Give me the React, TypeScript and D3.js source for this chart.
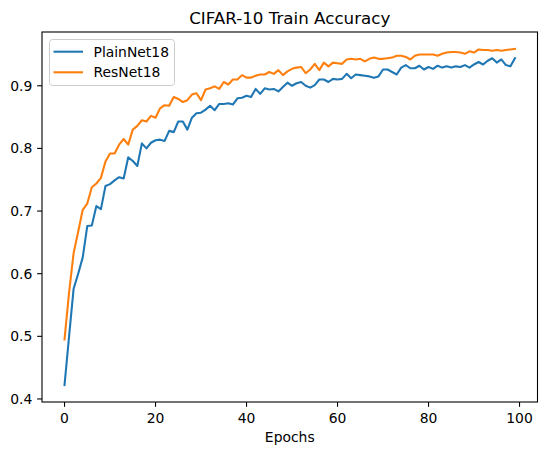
import React, { useEffect } from "react";
import * as d3 from "d3";

// epochs 0..99, train accuracy
const plainNet18 = [
  0.422, 0.5, 0.576, 0.6, 0.626, 0.676, 0.677, 0.708, 0.703, 0.74,
  0.743, 0.749, 0.754, 0.752, 0.786, 0.78, 0.772, 0.808, 0.8, 0.809,
  0.813, 0.814, 0.812, 0.828, 0.826, 0.843, 0.843, 0.83, 0.849, 0.856,
  0.857, 0.862, 0.868, 0.861, 0.871, 0.871, 0.872, 0.87, 0.88, 0.881,
  0.884, 0.882, 0.895, 0.887, 0.896, 0.894, 0.895, 0.891, 0.898, 0.905,
  0.9, 0.904, 0.906, 0.9, 0.897, 0.901, 0.91, 0.91, 0.906, 0.911,
  0.91, 0.911, 0.919, 0.912, 0.918, 0.917, 0.916, 0.915, 0.913, 0.915,
  0.926, 0.926, 0.922, 0.918, 0.929, 0.933, 0.928, 0.928, 0.932, 0.926,
  0.93, 0.927, 0.932, 0.929, 0.931, 0.929, 0.931, 0.93, 0.933, 0.929,
  0.934, 0.938, 0.934, 0.94, 0.944, 0.937, 0.942, 0.933, 0.931, 0.944,
];

const resNet18 = [
  0.495, 0.57, 0.633, 0.667, 0.702, 0.712, 0.738, 0.744, 0.753, 0.779,
  0.792, 0.792, 0.806, 0.815, 0.806, 0.83, 0.836, 0.845, 0.843, 0.852,
  0.849, 0.864, 0.869, 0.868, 0.882, 0.879, 0.874, 0.877, 0.886, 0.888,
  0.877, 0.894, 0.896, 0.899, 0.895, 0.906, 0.902, 0.91, 0.91, 0.917,
  0.913, 0.913, 0.916, 0.918, 0.918, 0.922, 0.919, 0.925, 0.917, 0.923,
  0.927, 0.929, 0.93, 0.92, 0.926, 0.935, 0.925, 0.937, 0.931, 0.937,
  0.936, 0.935, 0.942, 0.943, 0.942, 0.943, 0.939, 0.943, 0.945, 0.943,
  0.943, 0.944, 0.945, 0.948, 0.948, 0.946, 0.942, 0.948, 0.95, 0.95,
  0.95, 0.95, 0.948, 0.951, 0.953, 0.954, 0.954, 0.953, 0.951, 0.955,
  0.953, 0.958, 0.957, 0.957, 0.956, 0.957, 0.956, 0.957, 0.958, 0.959,
];

const seriesNames = ["PlainNet18", "ResNet18"];
const seriesColors = ["#1f77b4", "#ff7f0e"];
const xTicks = [0, 20, 40, 60, 80, 100];
const yTicks = [0.4, 0.5, 0.6, 0.7, 0.8, 0.9];

const W = 547;
const H = 455;
const box = { left: 42, right: 537.5, top: 32, bottom: 402 };
const font = "DejaVu Sans, sans-serif";

export default function App() {
  useEffect(() => {
    document.body.style.margin = "0";
  }, []);

  const series = [plainNet18, resNet18];
  const n = plainNet18.length;

  // matplotlib-style 5% margins
  const xPad = (n - 1) * 0.05;
  const all = series.flat();
  const lo = d3.min(all) as number;
  const hi = d3.max(all) as number;
  const yPad = (hi - lo) * 0.05;

  const x = d3.scaleLinear().domain([-xPad, n - 1 + xPad]).range([box.left, box.right]);
  const y = d3.scaleLinear().domain([lo - yPad, hi + yPad]).range([box.bottom, box.top]);

  const line = d3
    .line<number>()
    .x((_, i) => x(i))
    .y((d) => y(d));

  const tick = 4.86;

  return (
    <svg width={W} height={H} style={{ display: "block", background: "#fff" }} fontFamily={font}>
      <defs>
        <clipPath id="plot">
          <rect x={box.left} y={box.top} width={box.right - box.left} height={box.bottom - box.top} />
        </clipPath>
      </defs>

      <g clipPath="url(#plot)">
        {series.map((s, i) => (
          <path
            key={seriesNames[i]}
            d={line(s) ?? ""}
            fill="none"
            stroke={seriesColors[i]}
            strokeWidth={2.08}
            strokeLinejoin="round"
            strokeLinecap="square"
          />
        ))}
      </g>

      <rect
        x={box.left}
        y={box.top}
        width={box.right - box.left}
        height={box.bottom - box.top}
        fill="none"
        stroke="#000"
        strokeWidth={1.1}
      />

      {xTicks.map((t) => (
        <g key={t} transform={`translate(${x(t)},${box.bottom})`}>
          <line y2={tick} stroke="#000" strokeWidth={1.1} />
          <text y={21} textAnchor="middle" fontSize={13.9} fill="#000">
            {t}
          </text>
        </g>
      ))}

      {yTicks.map((t) => (
        <g key={t} transform={`translate(${box.left},${y(t)})`}>
          <line x2={-tick} stroke="#000" strokeWidth={1.1} />
          <text x={-9.7} dy="0.35em" textAnchor="end" fontSize={13.9} fill="#000">
            {t.toFixed(1)}
          </text>
        </g>
      ))}

      <text x={(box.left + box.right) / 2} y={442} textAnchor="middle" fontSize={13.9} fill="#000">
        Epochs
      </text>

      <text x={(box.left + box.right) / 2} y={24} textAnchor="middle" fontSize={16.7} fill="#000">
        CIFAR-10 Train Accuracy
      </text>

      <g transform="translate(49.5,39.5)">
        <rect width={125} height={46} rx={3} fill="#fff" fillOpacity={0.8} stroke="#ccc" strokeWidth={1} />
        {seriesNames.map((name, i) => (
          <g key={name} transform={`translate(0,${12.2 + i * 20.6})`}>
            <line x1={4} x2={33.5} stroke={seriesColors[i]} strokeWidth={2.08} />
            <text x={44} dy="0.35em" fontSize={13.9} fill="#000">
              {name}
            </text>
          </g>
        ))}
      </g>
    </svg>
  );
}
